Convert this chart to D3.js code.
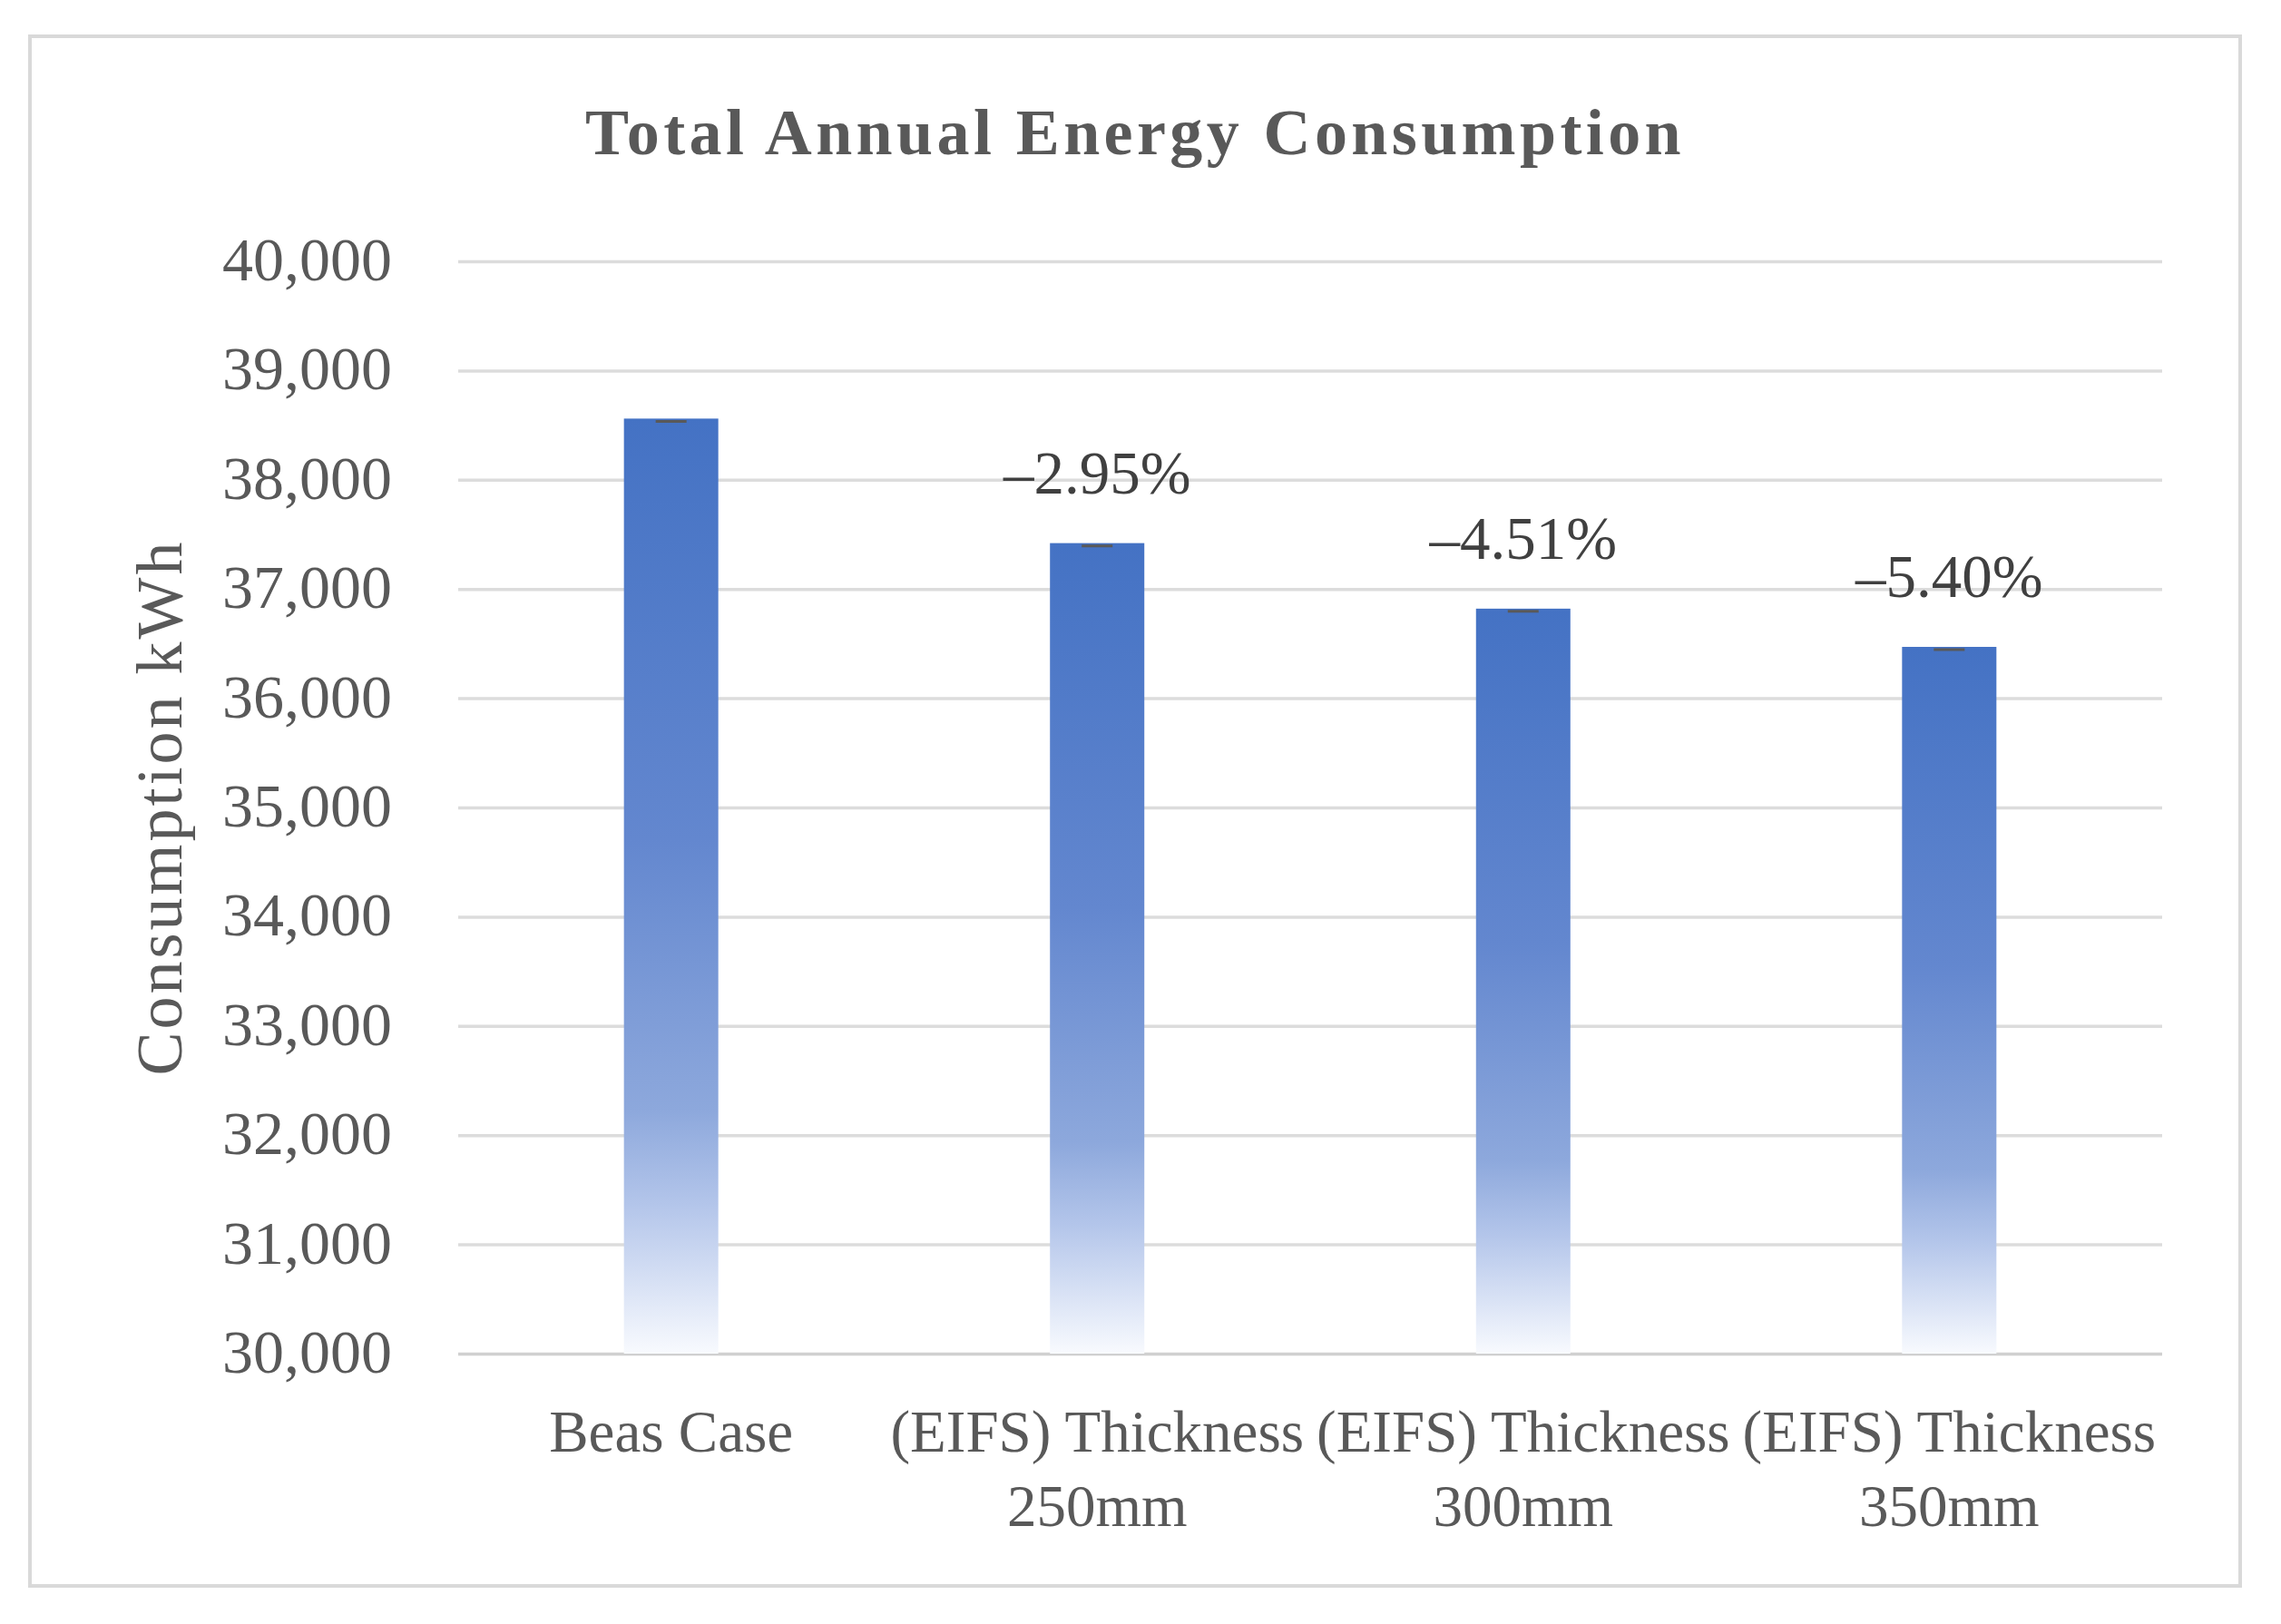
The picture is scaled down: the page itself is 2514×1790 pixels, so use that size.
<!DOCTYPE html>
<meta charset="utf-8">
<script src="https://d3js.org/d3.v7.min.js"></script>
<style>
  body { margin: 0; background: #fff; }
  text { font-family: "Liberation Serif", "DejaVu Serif", serif; }
</style>
<div id="chart"></div>
<script>

// data
var categories = ["Beas Case", "(EIFS) Thickness 250mm", "(EIFS) Thickness 300mm", "(EIFS) Thickness 350mm"];
var consumption = [38560, 37420, 36820, 36470];
var changeLabels = ["", "–2.95%", "–4.51%", "–5.40%"];
var yTicks = [30000, 31000, 32000, 33000, 34000, 35000, 36000, 37000, 38000, 39000, 40000];

var W = 2514, H = 1790;
var margin = {top: 288, right: 131, bottom: 298, left: 505},
    width = W - margin.left - margin.right,
    height = H - margin.top - margin.bottom;

var svg = d3.select("#chart")
  .append("svg")
    .attr("width", W)
    .attr("height", H);

// outer frame
svg.append("rect")
  .attr("x", 33).attr("y", 40)
  .attr("width", 2436).attr("height", 1708)
  .attr("fill", "#fff")
  .attr("stroke", "#d9d9d9")
  .attr("stroke-width", 4);

// gradient for bars
var grad = svg.append("defs").append("linearGradient")
  .attr("id", "barGrad")
  .attr("x1", 0).attr("y1", 0).attr("x2", 0).attr("y2", 1);
grad.append("stop").attr("offset", "0%").attr("stop-color", "#4472c4");
grad.append("stop").attr("offset", "45%").attr("stop-color", "#6387cf");
grad.append("stop").attr("offset", "74%").attr("stop-color", "#8da8dc");
grad.append("stop").attr("offset", "84%").attr("stop-color", "#b3c5ea");
grad.append("stop").attr("offset", "100%").attr("stop-color", "#f8fafe");

var g = svg.append("g")
  .attr("transform", "translate(" + margin.left + "," + margin.top + ")");

var x = d3.scaleBand()
  .domain(categories)
  .range([0, width])
  .paddingInner(0.7785)
  .paddingOuter(0.389);

var y = d3.scaleLinear()
  .domain([30000, 40000])
  .range([height, 0]);

// gridlines
g.append("g")
  .attr("class", "grid")
  .call(d3.axisLeft(y).tickValues(yTicks).tickSize(-width).tickFormat(""))
  .call(function(s) {
    s.select(".domain").remove();
    s.selectAll("line")
      .attr("stroke", function(d) { return d == 30000 ? "#d0d0d0" : "#dcdcdc"; })
      .attr("stroke-width", 3.5);
  });

// y axis labels
g.append("g")
  .call(d3.axisLeft(y).tickValues(yTicks).tickSize(0).tickPadding(73).tickFormat(d3.format(",")))
  .call(function(s) {
    s.select(".domain").remove();
    s.selectAll("text")
      .attr("fill", "#595959")
      .style("font-size", "68px")
      .attr("dy", "0.3em");
  });

// x axis labels, two lines
var xAxis = g.append("g")
  .attr("transform", "translate(0," + height + ")")
  .call(d3.axisBottom(x).tickSize(0).tickPadding(0))
  .call(function(s) { s.select(".domain").remove(); });

xAxis.selectAll("text")
  .attr("fill", "#595959")
  .style("font-size", "65px")
  .attr("dy", null)
  .attr("y", 0)
  .each(function(d) {
    var t = d3.select(this);
    var m = d.match(/^(.*Thickness) (.*)$/);
    var lines = m ? [m[1], m[2]] : [d];
    t.text(null);
    lines.forEach(function(l, i) {
      t.append("tspan").attr("x", 0).attr("y", 108 + i * 82).text(l);
    });
  });

// bars
g.selectAll(".bar")
  .data(consumption)
  .enter()
  .append("rect")
    .attr("class", "bar")
    .attr("x", function(d, i) { return x(categories[i]); })
    .attr("y", function(d) { return y(d); })
    .attr("width", x.bandwidth())
    .attr("height", function(d) { return height - y(d); })
    .attr("fill", "url(#barGrad)");

// tiny error bar caps on top
g.selectAll(".cap")
  .data(consumption)
  .enter()
  .append("line")
    .attr("class", "cap")
    .attr("x1", function(d, i) { return x(categories[i]) + x.bandwidth() / 2 - 17; })
    .attr("x2", function(d, i) { return x(categories[i]) + x.bandwidth() / 2 + 17; })
    .attr("y1", function(d) { return y(d) + 3; })
    .attr("y2", function(d) { return y(d) + 3; })
    .attr("stroke", "#595959")
    .attr("stroke-width", 3);

// percentage labels
g.selectAll(".pct")
  .data(consumption)
  .enter()
  .append("text")
    .attr("class", "pct")
    .attr("x", function(d, i) { return x(categories[i]) + x.bandwidth() / 2; })
    .attr("y", function(d) { return y(d) - 55; })
    .attr("text-anchor", "middle")
    .attr("fill", "#404040")
    .style("font-size", "67px")
    .text(function(d, i) { return changeLabels[i]; });

// y axis title
svg.append("text")
  .attr("transform", "translate(200," + (margin.top + height / 2) + ") rotate(-90)")
  .attr("text-anchor", "middle")
  .attr("fill", "#595959")
  .style("font-size", "72px")
  .style("letter-spacing", "3px")
  .text("Consumption kWh");

// chart title
svg.append("text")
  .attr("x", 1251)
  .attr("y", 170)
  .attr("text-anchor", "middle")
  .attr("fill", "#595959")
  .style("font-size", "72px")
  .style("font-weight", "bold")
  .style("letter-spacing", "4.4px")
  .text("Total Annual Energy Consumption");

</script>
